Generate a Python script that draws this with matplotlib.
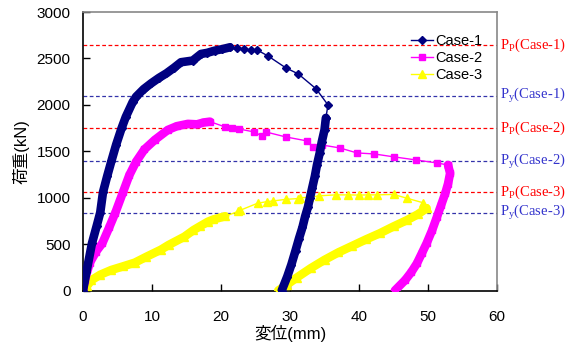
import matplotlib
matplotlib.use("Agg")
import matplotlib.pyplot as plt

plt.rcParams['font.family'] = ['Liberation Sans', 'Noto Sans CJK JP']

# ---------------- data ----------------
# Case-1 (loading: dense, softening: sparse, unloading: dense)
c1_load_x = [0, 0.5, 1.3, 2.0, 2.5, 2.9, 3.5, 4.1, 4.8, 5.6, 6.2, 7.2, 7.7, 8.8, 9.9, 11.0, 12.1, 13.2,
             14.2, 15.9, 17.1, 18.0, 19.1, 20.2, 21.3]
c1_load_y = [0, 200, 509, 700, 840, 1060, 1230, 1390, 1570, 1750, 1870, 2030, 2088, 2170, 2233, 2290, 2340, 2400,
             2459, 2477, 2548, 2560, 2584, 2600, 2620]
c1_mid_x = [22.3, 23.4, 24.3, 25.2, 26.8, 29.4, 31.2, 33.8, 35.5, 35.2]
c1_mid_y = [2610, 2602, 2590, 2592, 2527, 2398, 2333, 2171, 1999, 1859]
c1_unl_x = [35.2, 35.0, 34.6, 34.3, 33.9, 33.6, 33.2, 32.9, 32.6, 32.2, 31.8, 31.3, 30.8, 30.2, 29.6, 28.8]
c1_unl_y = [1859, 1730, 1600, 1480, 1350, 1230, 1100, 1000, 900, 800, 680, 560, 430, 280, 150, 0]

# Case-2
c2_load_x = [0, 0.25, 1.0, 1.9, 2.8, 3.8, 4.7, 5.8, 6.7, 7.7, 8.9, 10.4, 12.3, 13.6, 15.2, 16.5, 17.5, 18.4]
c2_load_y = [0, 113, 300, 420, 509, 680, 840, 1060, 1240, 1388, 1520, 1622, 1730, 1770, 1795, 1790, 1810, 1819]
c2_mid_x = [20.6, 21.6, 22.6, 24.8, 25.9, 26.5, 29.4, 32.5, 33.3, 34.6, 37.2, 39.7, 42.2, 45.1, 48.3, 51.3, 52.9]
c2_mid_y = [1762, 1751, 1740, 1708, 1665, 1708, 1654, 1611, 1546, 1568, 1536, 1482, 1471, 1439, 1406, 1374, 1352]
c2_unl_x = [52.9, 53.2, 52.9, 52.5, 51.9, 51.3, 50.6, 49.8, 49.1, 48.4, 47.6, 46.7, 45.2]
c2_unl_y = [1352, 1263, 1150, 1047, 920, 795, 650, 509, 400, 293, 200, 113, 0]

# Case-3
c3_load_x = [0, 0.6, 1.2, 2.5, 4.1, 5.8, 7.5, 9.2, 11.3, 12.4, 14.7, 16.0, 17.0, 18.1, 18.9, 20.6]
c3_load_y = [0, 50, 110, 170, 221, 260, 300, 364, 440, 490, 580, 650, 694, 741, 765, 800]
c3_mid_x = [22.5, 22.8, 25.3, 26.7, 27.6, 29.4, 31.1, 31.5, 32.7, 34.2, 36.6, 38.4, 40.0, 41.3, 42.6, 45.0, 46.9, 49.3, 49.8]
c3_mid_y = [852, 865, 940, 958, 965, 982, 990, 1000, 1003, 1020, 1030, 1030, 1028, 1030, 1030, 1035, 995, 945, 886]
c3_unl_x = [49.8, 48.5, 47.0, 45.0, 43.0, 41.0, 39.0, 37.0, 35.0, 33.0, 31.0, 29.5, 28.3]
c3_unl_y = [886, 820, 760, 690, 616, 550, 480, 410, 330, 240, 140, 60, 0]

case_names = ['Case-1', 'Case-2', 'Case-3']
case_colors = ['#000080', '#FF00FF', '#FFFF00']
case_markers = ['D', 's', '^']
case_msize = [4.5, 5, 6]

# reference load levels (kN)
ref_labels = ['Case-1', 'Case-1', 'Case-2', 'Case-2', 'Case-3', 'Case-3']
ref_kinds = ['P', 'y', 'P', 'y', 'P', 'y']
ref_values = [2640, 2100, 1750, 1390, 1060, 840]

x_ticks = [0, 10, 20, 30, 40, 50, 60]
y_ticks = [0, 500, 1000, 1500, 2000, 2500, 3000]

# ---------------- figure ----------------
fig = plt.figure(figsize=(5.74, 3.49), dpi=100)
ax = fig.add_axes([0.1446, 0.1676, 0.7213, 0.798])

for kind, val in zip(ref_kinds, ref_values):
    col = '#FF0000' if kind == 'P' else '#3333AA'
    ax.axhline(val, color=col, lw=0.9, ls=(0, (3, 2)), zorder=1)

series = [
    (c1_load_x, c1_load_y, c1_mid_x, c1_mid_y, c1_unl_x, c1_unl_y),
    (c2_load_x, c2_load_y, c2_mid_x, c2_mid_y, c2_unl_x, c2_unl_y),
    (c3_load_x, c3_load_y, c3_mid_x, c3_mid_y, c3_unl_x, c3_unl_y),
]
handles = []
zs = [5, 4, 3]
for (lx, ly, mx, my, ux, uy), name, col, mk, ms, z in zip(series, case_names, case_colors,
                                                          case_markers, case_msize, zs):
    allx = lx + mx + ux
    ally = ly + my + uy
    ax.plot(lx, ly, color=col, lw=6.2, solid_capstyle='round', solid_joinstyle='round', zorder=z)
    ax.plot(ux, uy, color=col, lw=6.2, solid_capstyle='round', solid_joinstyle='round', zorder=z)
    h, = ax.plot(allx, ally, color=col, lw=1.0, marker=mk, markersize=ms,
                 markeredgecolor=col, markerfacecolor=col, zorder=z, label=name)
    handles.append(h)

ax.set_xlim(0, 60)
ax.set_ylim(0, 3000)
ax.set_xticks(x_ticks)
ax.set_yticks(y_ticks)
ax.tick_params(axis='both', direction='in', length=5, width=1, labelsize=11)
ax.tick_params(axis='x', pad=14)
ax.tick_params(axis='y', pad=9)
for s in ['left', 'bottom']:
    ax.spines[s].set_color('black')
    ax.spines[s].set_linewidth(1.2)
for s in ['top', 'right']:
    ax.spines[s].set_color('#888888')
    ax.spines[s].set_linewidth(1.2)

ax.set_xlabel('変位(mm)', fontsize=12, labelpad=1)
ax.set_ylabel('荷重(kN)', fontsize=12, labelpad=5)

leg = ax.legend(handles=handles, loc='upper right', bbox_to_anchor=(0.99, 0.958),
                frameon=False, fontsize=10.5, handlelength=1.5, handletextpad=0.2,
                labelspacing=0.2, borderpad=0.2)

for lab, kind, val in zip(ref_labels, ref_kinds, ref_values):
    col = '#FF0000' if kind == 'P' else '#3333CC'
    sub = 'P' if kind == 'P' else 'y'
    ax.text(1.008, val, 'P$_\\mathregular{' + sub + '}$(' + lab + ')', transform=ax.get_yaxis_transform(),
            color=col, fontsize=10.5, family='Liberation Serif', va='center', ha='left',
            clip_on=False)

fig.savefig('out.png', dpi=100)
